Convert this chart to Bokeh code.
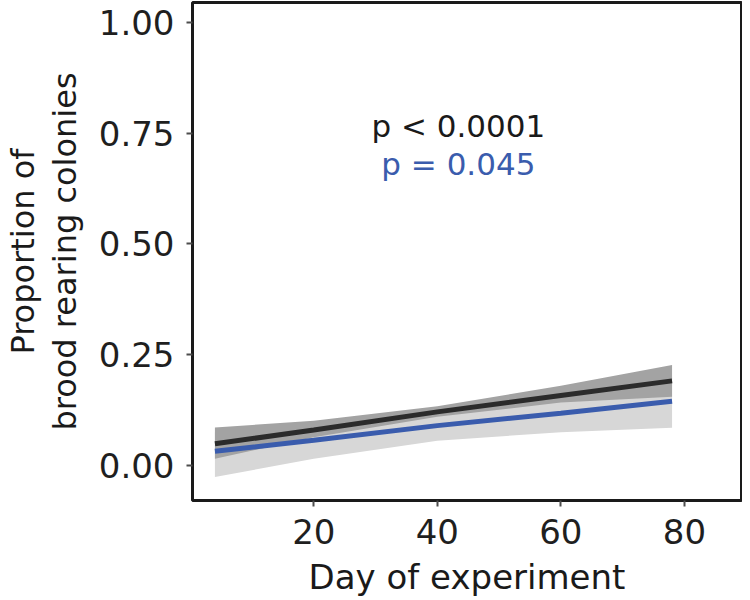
from bokeh.plotting import figure
from bokeh.models import Range1d, FixedTicker, Label
from bokeh.embed import file_html
from bokeh.resources import INLINE

# ---- data ----
day = [4, 20, 40, 60, 78]
fit_all = [0.049, 0.080, 0.121, 0.158, 0.191]
ci_all_low = [0.015, 0.064, 0.110, 0.142, 0.155]
ci_all_high = [0.086, 0.101, 0.134, 0.180, 0.227]
fit_sub = [0.032, 0.057, 0.090, 0.118, 0.145]
ci_sub_low = [-0.026, 0.015, 0.056, 0.075, 0.085]
ci_sub_high = [0.075, 0.090, 0.115, 0.150, 0.200]

x_ticks = [20, 40, 60, 80]
y_ticks = [0.0, 0.25, 0.5, 0.75, 1.0]
y_tick_labels = ["0.00", "0.25", "0.50", "0.75", "1.00"]

ann_all = "p < 0.0001"
ann_sub = "p = 0.045"
ann_x = 43.4
ann_all_y = 0.766
ann_sub_y = 0.681

x_title = "Day of experiment"
y_title = "Proportion of\nbrood rearing colonies"

FONT = "DejaVu Sans"
BLUE = "#3a5cad"

# frame geometry (canvas px)
L, R, T, B = 190, 741, 2, 500
W, H = 742, 600

p = figure(width=W, height=H, output_backend="svg", toolbar_location=None,
           x_range=Range1d(0.37, 89.24), y_range=Range1d(-0.079, 1.045),
           min_border_left=L, min_border_right=W - R, min_border_top=T,
           min_border_bottom=H - B)
p.background_fill_color = "white"
p.border_fill_color = "white"
p.outline_line_color = "#1a1a1a"
p.outline_line_width = 3
p.xgrid.visible = False
p.ygrid.visible = False

for ax in (p.xaxis[0], p.yaxis[0]):
    ax.axis_line_color = None
    ax.major_tick_line_color = "#4d4d4d"
    ax.major_tick_line_width = 2
    ax.major_tick_out = 6
    ax.major_tick_in = 0
    ax.minor_tick_line_color = None
    ax.major_label_text_font = FONT
    ax.major_label_text_font_size = "34px"
    ax.major_label_text_color = "#1f1f1f"
    ax.axis_label_text_font = FONT
    ax.axis_label_text_font_style = "normal"
    ax.axis_label_text_color = "#1a1a1a"

p.xaxis.ticker = FixedTicker(ticks=x_ticks)
p.yaxis.ticker = FixedTicker(ticks=y_ticks)
p.yaxis.major_label_overrides = {t: s for t, s in zip(y_ticks, y_tick_labels)}
p.xaxis.major_label_standoff = 12
p.yaxis.major_label_standoff = 12

p.xaxis.axis_label = x_title
p.xaxis.axis_label_text_font_size = "34px"
p.xaxis.axis_label_standoff = 10
p.yaxis.axis_label = y_title
p.yaxis.axis_label_text_font_size = "32px"
p.yaxis.axis_label_text_line_height = 1.1
p.yaxis.axis_label_standoff = 12

# confidence bands
p.varea(x=day, y1=ci_sub_low, y2=ci_sub_high, fill_color="#d7d7d7")
p.varea(x=day, y1=ci_all_low, y2=ci_all_high, fill_color="#a3a3a3")
# fitted lines
p.line(day, fit_all, line_color="#2b2b2b", line_width=5)
p.line(day, fit_sub, line_color=BLUE, line_width=5)

# annotations
p.add_layout(Label(x=ann_x, y=ann_all_y, text=ann_all, text_align="center",
                   text_baseline="alphabetic", text_font=FONT,
                   text_font_size="31px", text_color="#1a1a1a"))
p.add_layout(Label(x=ann_x, y=ann_sub_y, text=ann_sub, text_align="center",
                   text_baseline="alphabetic", text_font=FONT,
                   text_font_size="31px", text_color=BLUE))

open("out.html", "w").write(file_html(p, INLINE))
